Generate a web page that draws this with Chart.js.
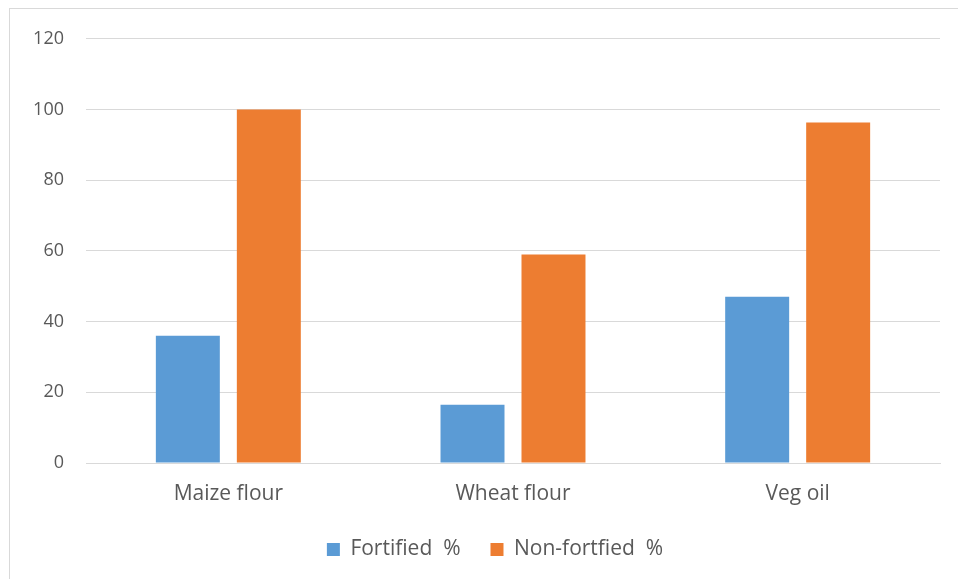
<!DOCTYPE html>
<html lang="en">
  <head>
    <meta charset="UTF-8" />
    <title>Fortification</title>
    <script src="https://cdn.jsdelivr.net/npm/chart.js@4/dist/chart.umd.min.js"></script>
    <style>
      body { margin: 0; overflow: hidden; background: #fff; }
      #box {
        position: absolute; left: 9px; top: 8px;
        width: 960px; height: 590px;
        border: 1px solid #d9d9d9;
        overflow: hidden;
      }
      #chart { position: absolute; left: 0; top: -3px; }
    </style>
  </head>
  <body>
    <div id="box"><canvas id="chart" width="960" height="593"></canvas></div>
    <script>
      const categories = ['Maize flour', 'Wheat flour', 'Veg oil'];
      const fortified = [36, 16.5, 47];
      const nonFortified = [100, 59, 96.3];
      const yTicks = [0, 20, 40, 60, 80, 100, 120];

      const ctx = document.getElementById('chart').getContext('2d');
      const textColor = '#595959';
      const family = '"Open Sans", sans-serif';
      const smallFont = { family: family, size: 18 };
      const bigFont = { family: family, size: 21 };

      // the legend sits a bit right of the plot centre in the original
      const legendShift = {
        id: 'legendShift',
        afterLayout(chart) {
          chart.legend.left += 20;
          chart.legend.right += 20;
        },
      };

      const chart = new Chart(ctx, {
        type: 'bar',
        data: {
          labels: categories,
          datasets: [
            {
              label: 'Fortified  %',
              data: fortified,
              backgroundColor: '#5b9bd5',
              barPercentage: 0.79,
              categoryPercentage: 0.569,
            },
            {
              label: 'Non-fortfied  %',
              data: nonFortified,
              backgroundColor: '#ed7d31',
              barPercentage: 0.79,
              categoryPercentage: 0.569,
            },
          ],
        },
        plugins: [legendShift],
        options: {
          responsive: false,
          animation: false,
          layout: { padding: { top: 26, right: 30, left: 0, bottom: 29 } },
          plugins: {
            tooltip: { enabled: false },
            legend: {
              position: 'bottom',
              labels: {
                color: textColor,
                font: bigFont,
                boxWidth: 13,
                boxHeight: 13,
                padding: 30,
              },
            },
          },
          scales: {
            x: {
              grid: { display: false },
              border: { color: '#d9d9d9' },
              ticks: { color: textColor, font: bigFont, padding: 10 },
              afterFit: scale => { scale.height = 46; },
            },
            y: {
              min: 0,
              max: 120,
              afterBuildTicks: scale => {
                scale.ticks = yTicks.map(v => ({ value: v }));
              },
              grid: { color: '#d9d9d9', drawTicks: false },
              border: { display: false },
              ticks: { color: textColor, font: smallFont, padding: 22 },
              afterFit: scale => { scale.width = 76; },
            },
          },
        },
      });
    </script>
  </body>
</html>
